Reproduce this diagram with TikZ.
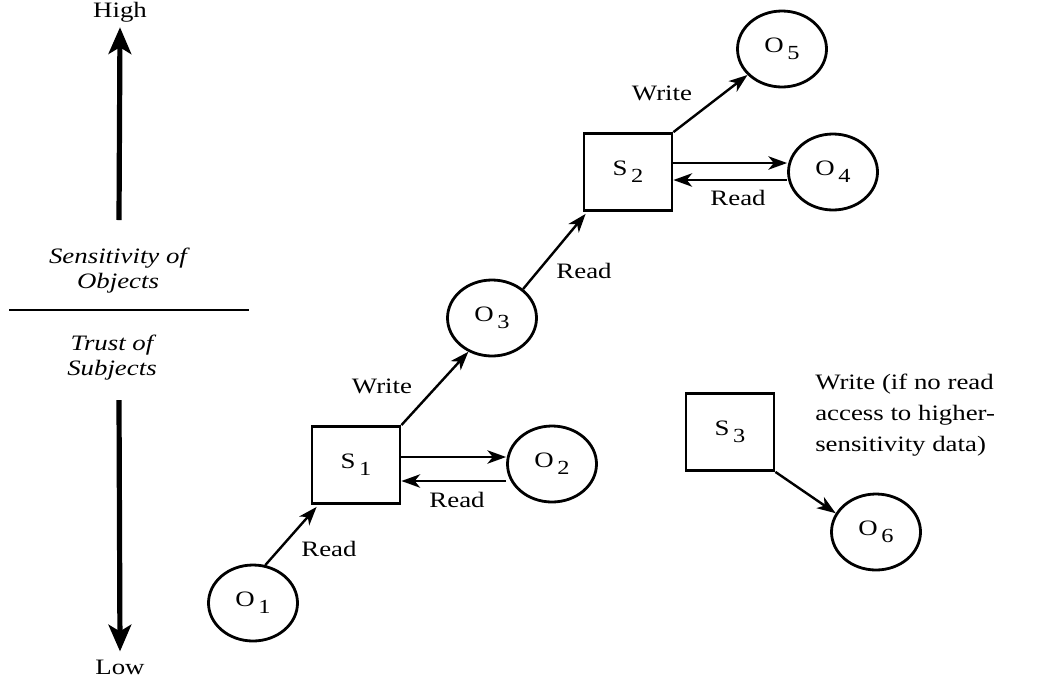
\documentclass[tikz,border=0pt]{standalone}
\usepackage{fontspec}
\setmainfont{Liberation Serif}[FakeStretch=1.22]
\usetikzlibrary{shapes.geometric,arrows.meta,calc}
\newcommand{\sub}[1]{\,\raisebox{-0.7ex}{\fontsize{15}{15}\selectfont #1}}
\newlength{\pxu}\setlength{\pxu}{0.75pt}
\tikzset{
  obj/.style={draw,line width=2.1pt,ellipse,minimum width=89\pxu,minimum height=76\pxu,inner sep=0pt,font=\fontsize{16.5}{16.5}\selectfont},
  subj/.style={draw,line width=2.1pt,rectangle,minimum width=88\pxu,minimum height=77\pxu,inner sep=0pt,font=\fontsize{16.5}{16.5}\selectfont},
  arr/.style={line width=1.8pt,-{Stealth[length=14pt,width=10pt,inset=4pt]}},
  axisarr/.style={line width=3.9pt,-{Stealth[length=20pt,width=17pt,inset=5pt]}},
  lbl/.style={font=\fontsize{16.5}{18}\selectfont,inner sep=0pt},
  ital/.style={font=\fontsize{16.5}{18.75}\selectfont\itshape,align=center,inner sep=0pt}
}
\begin{document}
\begin{tikzpicture}[x=0.75pt,y=-0.75pt]
\useasboundingbox (0,0) rectangle (1042,683);
% left axis
\node[lbl] (high) at (120,12) {High};
\node[lbl] (low) at (120,667) {Low};
\coordinate (upstart) at (119,220);
\coordinate (downstart) at (119,400);
\draw[axisarr] (upstart) -- ($(high.south)+(0,5)$);
\draw[axisarr] (downstart) -- ($(low.north)+(0,-8)$);
\node[ital] (sens) at (118,271) {Sensitivity of\\Objects};
\node[ital] (trust) at (112,358) {Trust of\\Subjects};
\coordinate (ll) at (9,310);
\coordinate (lr) at (249,310);
\draw[line width=1pt] (ll) -- (lr);
% nodes
\node[obj] (O1) at (253,603) {O\sub{1}};
\node[subj] (S1) at (356,465) {S\sub{1}};
\node[obj] (O2) at (552,464) {O\sub{2}};
\node[obj] (O3) at (492,318) {O\sub{3}};
\node[subj] (S2) at (628,172) {S\sub{2}};
\node[obj] (O4) at (833,172) {O\sub{4}};
\node[obj] (O5) at (782,49) {O\sub{5}};
\node[subj] (S3) at (730,432) {S\sub{3}};
\node[obj] (O6) at (876,532) {O\sub{6}};
% connectors
\draw[arr] (O1.72) -- ($(S1.south west)+(6,2)$);
\draw[arr] ($(S1.east)+(0,-8)$) -- (O2.west |- {$(S1.east)+(0,-8)$});
\draw[arr] (O2.west |- {$(S1.east)+(0,16)$}) -- ($(S1.east)+(0,16)$);
\draw[arr] (S1.north east) -- (O3.235);
\draw[arr] (O3.43) -- ($(S2.south west)+(3,2)$);
\draw[arr] ($(S2.east)+(0,-9)$) -- (O4.west |- {$(S2.east)+(0,-9)$});
\draw[arr] (O4.west |- {$(S2.east)+(0,8)$}) -- ($(S2.east)+(0,8)$);
\draw[arr] (S2.north east) -- (O5.217);
\draw[arr] (S3.south east) -- (O6.155);
% labels
\node[lbl] (r1) at (329,549) {Read};
\node[lbl] (r2) at (457,500) {Read};
\node[lbl] (w1) at (382,386) {Write};
\node[lbl] (r3) at (584,271) {Read};
\node[lbl] (r4) at (738,198) {Read};
\node[lbl] (w2) at (662,93) {Write};
\node[lbl,align=left,anchor=north west,font=\fontsize{16.5}{23.25}\selectfont] (w3) at (815,374) {Write (if no read\\access to higher-\\sensitivity data)};
\end{tikzpicture}
\end{document}
